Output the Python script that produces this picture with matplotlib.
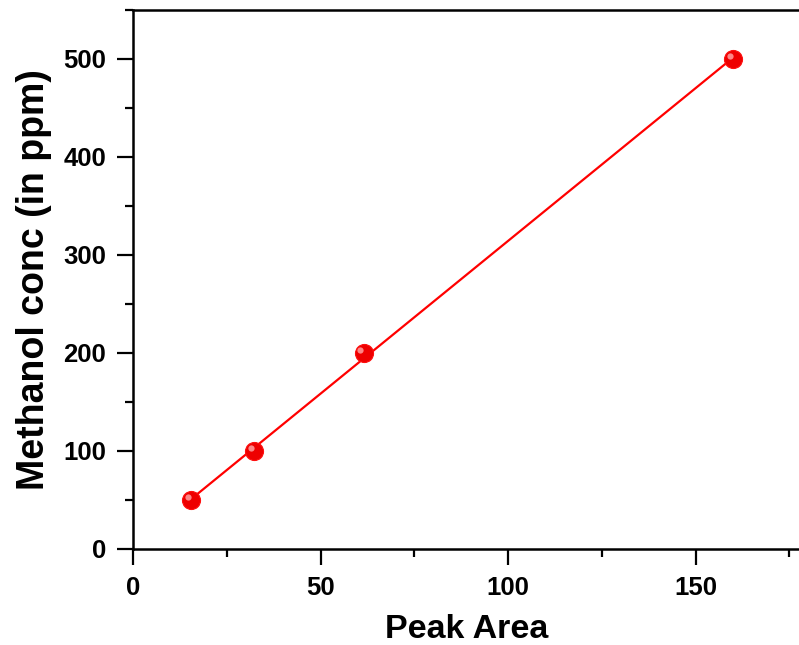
import numpy as np
import matplotlib
matplotlib.use('Agg')
import matplotlib.pyplot as plt
import matplotlib.transforms as mtransforms
from matplotlib.ticker import MultipleLocator

plt.rcParams['font.family'] = ['Liberation Sans', 'DejaVu Sans']
plt.rcParams['font.weight'] = 'bold'

# calibration points: peak area vs methanol concentration
peak_area = [15.5, 32.3, 61.5, 160.0]
conc_ppm = [50, 100, 200, 500]

x = np.array(peak_area)
y = np.array(conc_ppm)
slope, intercept = np.polyfit(x, y, 1)
fit_x = np.array([x.min(), x.max()])
fit_y = slope * fit_x + intercept

fig = plt.figure(figsize=(7.99, 6.45), dpi=100)
ax = fig.add_axes([133 / 799, 96 / 645, 1 - 133 / 799 + 0.002, 539 / 645])

ax.plot(fit_x, fit_y, color='#ff0000', lw=1.6, zorder=2)
ax.plot(x, y, 'o', ms=13, mfc='#ee0000', mec='#ff1010', mew=0.8, zorder=3)
# small highlight on each ball
hl = mtransforms.offset_copy(ax.transData, fig=fig, x=-2.5, y=2.5, units='points')
ax.plot(x, y, 'o', ms=4.5, mfc='#ffa0a0', mec='none', alpha=0.85, transform=hl, zorder=4)

ax.set_xlim(0, 178)
ax.set_ylim(0, 550)
ax.xaxis.set_major_locator(MultipleLocator(50))
ax.xaxis.set_minor_locator(MultipleLocator(25))
ax.yaxis.set_major_locator(MultipleLocator(100))
ax.yaxis.set_minor_locator(MultipleLocator(50))

ax.tick_params(which='major', direction='out', length=11.5, width=1.6,
               labelsize=18.5, pad=8)
ax.tick_params(which='minor', direction='out', length=6, width=1.6)
ax.tick_params(top=False, right=False, which='both')
for s in ['left', 'bottom', 'top']:
    ax.spines[s].set_linewidth(1.8)
ax.spines['right'].set_visible(False)

ax.set_xlabel('Peak Area', fontsize=24.5, fontweight='bold', labelpad=10)
ax.set_ylabel('Methanol conc (in ppm)', fontsize=27, fontweight='bold', labelpad=8)

fig.savefig('out.png', dpi=100)
